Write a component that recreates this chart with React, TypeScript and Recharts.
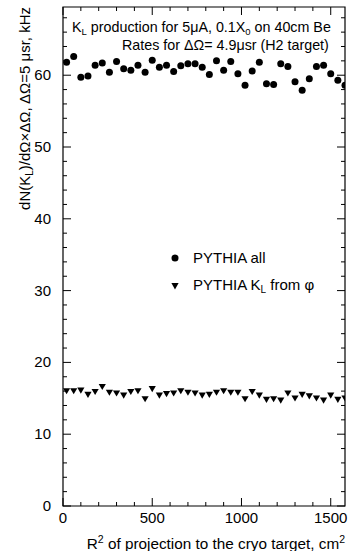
import React from 'react';
import { ScatterChart, Scatter, XAxis, YAxis, ReferenceArea } from 'recharts';

const R2_BINS = [20, 60, 100, 140, 180, 220, 260, 300, 340, 380, 420, 460, 500, 540, 580, 620, 660, 700, 740, 780, 820, 860, 900, 940, 980, 1020, 1060, 1100, 1140, 1180, 1220, 1260, 1300, 1340, 1380, 1420, 1460, 1500, 1540, 1580];

const PYTHIA_ALL = [61.8, 62.6, 59.7, 59.9, 61.4, 61.7, 60.4, 61.9, 60.9, 60.7, 61.4, 60.4, 62.1, 61.1, 61.4, 60.5, 61.3, 61.6, 61.6, 61.1, 60.1, 62.0, 60.7, 61.9, 60.2, 58.6, 60.6, 61.8, 58.8, 58.7, 61.6, 61.2, 59.1, 57.9, 59.5, 61.2, 61.4, 60.2, 59.3, 58.6];

const PYTHIA_KL_PHI = [16.0, 16.0, 16.1, 15.5, 15.9, 16.6, 15.8, 15.7, 15.4, 15.9, 16.0, 14.9, 16.3, 15.4, 15.6, 15.7, 16.0, 15.8, 15.7, 15.4, 15.5, 15.8, 16.0, 15.8, 15.8, 14.9, 15.9, 15.4, 14.8, 14.9, 14.7, 15.7, 15.0, 15.5, 15.3, 15.0, 14.7, 15.4, 14.8, 15.0];

const X_TICKS = [0, 100, 200, 300, 400, 500, 600, 700, 800, 900, 1000, 1100, 1200, 1300, 1400, 1500];
const X_LABELS = [0, 500, 1000, 1500];
const Y_TICKS = [0, 2, 4, 6, 8, 10, 12, 14, 16, 18, 20, 22, 24, 26, 28, 30, 32, 34, 36, 38, 40, 42, 44, 46, 48, 50, 52, 54, 56, 58, 60, 62, 64, 66, 68];
const Y_LABELS = [0, 10, 20, 30, 40, 50, 60];

const X_DOMAIN: [number, number] = [0, 1580];
const Y_DOMAIN: [number, number] = [0, 69.5];

const W = 350;
const H = 551;
const YAXIS_W = 63;
const XAXIS_H = 45;
const M = { top: 7, right: 5, bottom: 0, left: 0 };
const PL = YAXIS_W;
const PR = W - M.right;
const PT = M.top;
const PB = H - XAXIS_H;
const FONT = '"Liberation Sans", Arial, Helvetica, sans-serif';

const allData = R2_BINS.map((r, i) => ({ x: r, y: PYTHIA_ALL[i] }));
const phiData = R2_BINS.map((r, i) => ({ x: r, y: PYTHIA_KL_PHI[i] }));

const XTick = (props: any) => {
  const { x, payload } = props;
  const v = payload.value;
  const major = X_LABELS.includes(v);
  const len = major ? 8 : 4;
  return (
    <g>
      <line x1={x} x2={x} y1={PB} y2={PB - len} stroke="#000" strokeWidth={1} />
      <line x1={x} x2={x} y1={PT} y2={PT + len} stroke="#000" strokeWidth={1} />
      {major && (
        <text x={x} y={PB + 17} textAnchor="middle" fontFamily={FONT} fontSize={15} fill="#000">
          {v}
        </text>
      )}
    </g>
  );
};

const YTick = (props: any) => {
  const { y, payload } = props;
  const v = payload.value;
  const major = Y_LABELS.includes(v);
  const len = major ? 8 : 4;
  return (
    <g>
      <line x1={PL} x2={PL + len} y1={y} y2={y} stroke="#000" strokeWidth={1} />
      <line x1={PR} x2={PR - len} y1={y} y2={y} stroke="#000" strokeWidth={1} />
      {major && (
        <text x={PL - 12} y={y + 5} textAnchor="end" fontFamily={FONT} fontSize={15} fill="#000">
          {v}
        </text>
      )}
    </g>
  );
};

const TriDown = (props: any) => {
  const { cx, cy } = props;
  if (cx == null || cy == null) return null;
  const s = 3.6;
  return <path d={`M${cx - s},${cy - s * 0.8} L${cx + s},${cy - s * 0.8} L${cx},${cy + s * 0.9} Z`} fill="#000" />;
};

const Dot = (props: any) => {
  const { cx, cy } = props;
  if (cx == null || cy == null) return null;
  return <circle cx={cx} cy={cy} r={3.5} fill="#000" />;
};

export default function App() {
  return (
    <div style={{ position: 'absolute', left: 0, top: 0, width: W, height: H, background: '#fff' }}>
      <ScatterChart width={W} height={H} margin={M}>
        <XAxis
          type="number"
          dataKey="x"
          domain={X_DOMAIN}
          ticks={X_TICKS}
          interval={0}
          height={XAXIS_H}
          tick={<XTick />}
          tickLine={false}
          axisLine={false}
          allowDataOverflow
        />
        <YAxis
          type="number"
          dataKey="y"
          domain={Y_DOMAIN}
          ticks={Y_TICKS}
          interval={0}
          tick={<YTick />}
          tickLine={false}
          axisLine={false}
          width={YAXIS_W}
          allowDataOverflow
        />
        <ReferenceArea
          x1={X_DOMAIN[0]}
          x2={X_DOMAIN[1]}
          y1={Y_DOMAIN[0]}
          y2={Y_DOMAIN[1]}
          fill="none"
          stroke="#000"
          strokeWidth={1.2}
          ifOverflow="visible"
        />
        <Scatter data={allData} shape={<Dot />} isAnimationActive={false} />
        <Scatter data={phiData} shape={<TriDown />} isAnimationActive={false} />
      </ScatterChart>
      <svg
        width={W}
        height={H}
        style={{ position: 'absolute', left: 0, top: 0, pointerEvents: 'none' }}
        fontFamily={FONT}
      >
        <text x={72} y={32} fontSize={14.3} fill="#000">
          K<tspan fontSize={9.5} dy={2.5}>L</tspan>
          <tspan dy={-2.5}> production for 5μA, 0.1X</tspan>
          <tspan fontSize={9.5} dy={2.5}>0</tspan>
          <tspan dy={-2.5}> on 40cm Be</tspan>
        </text>
        <text x={122} y={49.5} fontSize={14.3} fill="#000">
          Rates for ΔΩ= 4.9μsr (H2 target)
        </text>
        <text transform="translate(30,7) rotate(-90)" textAnchor="end" fontSize={15} fill="#000">
          dN(K<tspan fontSize={10} dy={3}>L</tspan>
          <tspan dy={-3}>)/dΩ×ΔΩ, ΔΩ=5 μsr, kHz</tspan>
        </text>
        <text x={345} y={549} textAnchor="end" fontSize={15.3} fill="#000">
          R<tspan fontSize={10.5} dy={-6}>2</tspan>
          <tspan dy={6}> of projection to the cryo target, cm</tspan>
          <tspan fontSize={10.5} dy={-6}>2</tspan>
        </text>
        <circle cx={175} cy={258} r={3.5} fill="#000" />
        <text x={193} y={263} fontSize={15} fill="#000">PYTHIA all</text>
        <path d="M171.4,283 L178.6,283 L175,289.5 Z" fill="#000" />
        <text x={193} y={290} fontSize={15} fill="#000">
          PYTHIA K<tspan fontSize={10} dy={3}>L</tspan>
          <tspan dy={-3}> from φ</tspan>
        </text>
      </svg>
    </div>
  );
}
